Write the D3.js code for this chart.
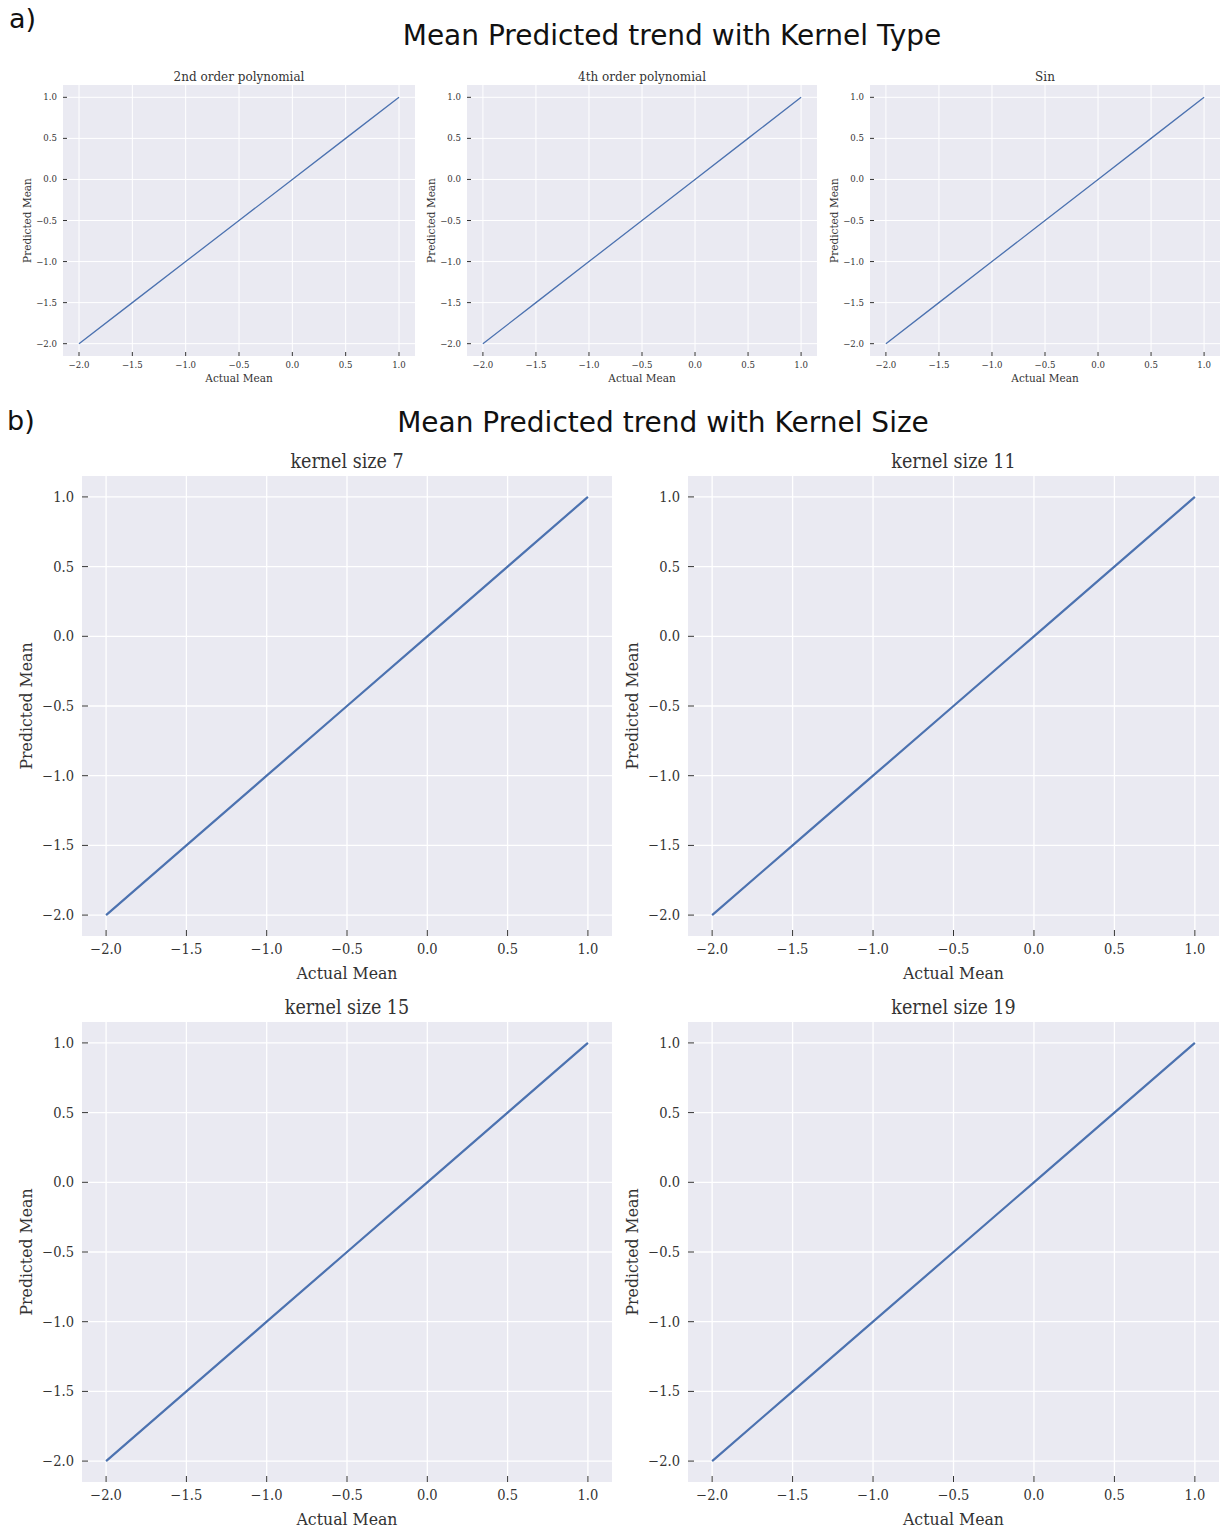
<!DOCTYPE html>
<html lang="en">
  <head>
    <meta charset="UTF-8" />
    <title>Mean Predicted trend</title>
    <script src="https://d3js.org/d3.v7.min.js"></script>
    <style>
      body {
        margin: 0;
        background: white;
      }
      .serif {
        font-family: "DejaVu Serif", "Liberation Serif", serif;
        fill: #333;
      }
      .heading {
        font-family: "DejaVu Sans", Verdana, sans-serif;
        fill: #111;
      }
    </style>
  </head>
  <body>
    <div id="chart"></div>
    <script>
      // data
      const actualMean = [-2.0, -1.5, -1.0, -0.5, 0.0, 0.5, 1.0];
      const kernelTypes = ["2nd order polynomial", "4th order polynomial", "Sin"];
      const predTypePoly2 = [-2.0, -1.5, -1.0, -0.5, 0.0, 0.5, 1.0];
      const predTypePoly4 = [-2.0, -1.5, -1.0, -0.5, 0.0, 0.5, 1.0];
      const predTypeSin = [-2.0, -1.5, -1.0, -0.5, 0.0, 0.5, 1.0];
      const kernelSizes = ["kernel size 7", "kernel size 11", "kernel size 15", "kernel size 19"];
      const predSize7 = [-2.0, -1.5, -1.0, -0.5, 0.0, 0.5, 1.0];
      const predSize11 = [-2.0, -1.5, -1.0, -0.5, 0.0, 0.5, 1.0];
      const predSize15 = [-2.0, -1.5, -1.0, -0.5, 0.0, 0.5, 1.0];
      const predSize19 = [-2.0, -1.5, -1.0, -0.5, 0.0, 0.5, 1.0];
      const tickValues = [-2.0, -1.5, -1.0, -0.5, 0.0, 0.5, 1.0];

      const W = 1221, H = 1530;
      const svg = d3.select("#chart").append("svg")
        .attr("width", W).attr("height", H);

      // section headings
      svg.append("text").attr("class", "heading").attr("x", 9).attr("y", 28)
        .attr("font-size", 27).text("a)");
      svg.append("text").attr("class", "heading").attr("x", 672).attr("y", 45)
        .attr("text-anchor", "middle").attr("font-size", 28)
        .text("Mean Predicted trend with Kernel Type");
      svg.append("text").attr("class", "heading").attr("x", 7).attr("y", 430)
        .attr("font-size", 27).text("b)");
      svg.append("text").attr("class", "heading").attr("x", 663).attr("y", 432)
        .attr("text-anchor", "middle").attr("font-size", 28)
        .text("Mean Predicted trend with Kernel Size");

      const fmt = (v) => d3.format(".1f")(v).replace("-", "\u2212");

      function panel(opts) {
        const { left, right, top, bottom, title, values, s } = opts;
        const pad = 0.15;
        const x = d3.scaleLinear().domain([-2 - pad, 1 + pad]).range([left, right]);
        const y = d3.scaleLinear().domain([-2 - pad, 1 + pad]).range([bottom, top]);
        const g = svg.append("g").style("font-stretch", s.stretch);

        g.append("rect").attr("x", left).attr("y", top)
          .attr("width", right - left).attr("height", bottom - top)
          .attr("fill", "#eaeaf2");

        // grid
        g.selectAll(".gx").data(tickValues).enter().append("line")
          .attr("x1", (d) => x(d)).attr("x2", (d) => x(d))
          .attr("y1", top).attr("y2", bottom)
          .attr("stroke", "white").attr("stroke-width", s.grid);
        g.selectAll(".gy").data(tickValues).enter().append("line")
          .attr("y1", (d) => y(d)).attr("y2", (d) => y(d))
          .attr("x1", left).attr("x2", right)
          .attr("stroke", "white").attr("stroke-width", s.grid);

        // ticks
        g.selectAll(".tx").data(tickValues).enter().append("line")
          .attr("x1", (d) => x(d)).attr("x2", (d) => x(d))
          .attr("y1", bottom).attr("y2", bottom - s.tick)
          .attr("stroke", "#333").attr("stroke-width", 1);
        g.selectAll(".ty").data(tickValues).enter().append("line")
          .attr("y1", (d) => y(d)).attr("y2", (d) => y(d))
          .attr("x1", left).attr("x2", left + s.tick)
          .attr("stroke", "#333").attr("stroke-width", 1);

        g.selectAll(".lx").data(tickValues).enter().append("text")
          .attr("class", "serif").attr("font-size", s.tickFont)
          .attr("x", (d) => x(d)).attr("y", bottom + s.tickGap)
          .attr("text-anchor", "middle").attr("dy", "0.71em")
          .text(fmt);
        g.selectAll(".ly").data(tickValues).enter().append("text")
          .attr("class", "serif").attr("font-size", s.tickFont)
          .attr("x", left - s.yGap).attr("y", (d) => y(d))
          .attr("text-anchor", "end").attr("dy", "0.35em")
          .text(fmt);

        // line
        const pts = actualMean.map((a, i) => [a, values[i]]);
        g.append("path").datum(pts)
          .attr("fill", "none").attr("stroke", "#4c72b0")
          .attr("stroke-width", s.line)
          .attr("d", d3.line().x((d) => x(d[0])).y((d) => y(d[1])));

        // labels
        g.append("text").attr("class", "serif").attr("font-size", s.titleFont)
          .attr("x", (left + right) / 2).attr("y", top - s.titleGap)
          .attr("text-anchor", "middle").text(title);
        g.append("text").attr("class", "serif").attr("font-size", s.labelFont)
          .attr("x", (left + right) / 2).attr("y", bottom + s.xLabelGap)
          .attr("text-anchor", "middle").text("Actual Mean");
        g.append("text").attr("class", "serif").attr("font-size", s.labelFont)
          .attr("transform", `translate(${left - s.yLabelGap},${(top + bottom) / 2}) rotate(-90)`)
          .attr("text-anchor", "middle").text("Predicted Mean");
      }

      const small = {
        stretch: "normal", grid: 1, tick: 4, tickFont: 8.6, tickGap: 6, yGap: 6, line: 1.3,
        titleFont: 12, titleGap: 4, labelFont: 10.5, xLabelGap: 26, yLabelGap: 32,
      };
      const big = {
        stretch: "condensed", grid: 1.3, tick: 6, tickFont: 14.5, tickGap: 8, yGap: 8, line: 2.2,
        titleFont: 19.5, titleGap: 8, labelFont: 17.5, xLabelGap: 43, yLabelGap: 50,
      };

      const typeValues = [predTypePoly2, predTypePoly4, predTypeSin];
      const typeCols = [[63, 415], [467, 817], [870, 1220]];
      kernelTypes.forEach((t, i) => {
        panel({
          left: typeCols[i][0], right: typeCols[i][1], top: 85, bottom: 356,
          title: t, values: typeValues[i], s: small,
        });
      });

      const sizeValues = [predSize7, predSize11, predSize15, predSize19];
      const sizeCols = [[82, 612], [688, 1219]];
      const sizeRows = [[476, 936], [1022, 1482]];
      kernelSizes.forEach((t, i) => {
        const c = sizeCols[i % 2], r = sizeRows[Math.floor(i / 2)];
        panel({
          left: c[0], right: c[1], top: r[0], bottom: r[1],
          title: t, values: sizeValues[i], s: big,
        });
      });
    </script>
  </body>
</html>
